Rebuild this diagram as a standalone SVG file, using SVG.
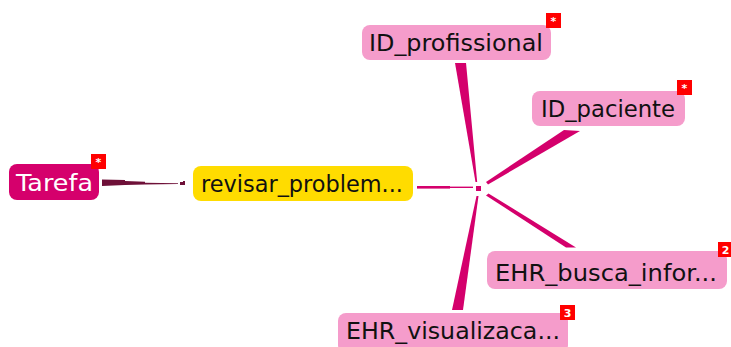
<svg xmlns="http://www.w3.org/2000/svg" width="731" height="347" viewBox="0 0 731 347">
<style>
.pink{fill:#f59ccb}
.t{font-family:"DejaVu Sans",sans-serif;font-size:23px;fill:#111}
.b{fill:#ff0000}
.bt{font-family:"DejaVu Sans",sans-serif;font-size:11px;font-weight:bold;fill:#fff;text-anchor:middle}
.sp{fill:#d4006c}
</style>
<rect width="731" height="347" fill="#fff"/>
<g id="connectors">
<polygon points="102,179.5 125,180 125,181 145,181.8 145,182.8 178,183.2 178,184 145,184.4 125,185 102,186" fill="#6e1038"/>
<rect x="180" y="182" width="5" height="3" fill="#6e1038"/>
<rect x="183" y="181" width="2" height="2" fill="#6e1038"/>
<rect x="417" y="186" width="33" height="2.6" class="sp"/>
<rect x="450" y="186.6" width="23" height="1.4" class="sp"/>
<rect x="476" y="186" width="5" height="5" class="sp"/>
<polygon points="475.5,182 477.2,182 466,63 455,63" class="sp"/>
<polygon points="486,182 488,184.5 580,131 564,130" class="sp"/>
<polygon points="486,195.5 488.5,193.5 576,247.5 566,247.5" class="sp"/>
<polygon points="476.5,196 478.5,196 463,310 452,310" class="sp"/>
</g>
<g id="n-tarefa">
<rect x="9" y="164" width="90" height="36" rx="8" fill="#d5006c"/>
<text x="16" y="191" class="t" style="fill:#fff" textLength="77" lengthAdjust="spacingAndGlyphs">Tarefa</text>
<rect x="91" y="154" width="15" height="15" class="b"/>
<text x="98.5" y="166" class="bt">*</text>
</g>
<g id="n-revisar">
<rect x="193" y="166" width="220" height="35" rx="8" fill="#ffdc00"/>
<text x="201" y="192" class="t" textLength="202" lengthAdjust="spacingAndGlyphs">revisar_problem...</text>
</g>
<g id="n-idprof">
<rect x="362" y="25" width="189" height="35" rx="8" class="pink"/>
<text x="369" y="51" class="t" textLength="174" lengthAdjust="spacingAndGlyphs">ID_profissional</text>
<rect x="546" y="13" width="15" height="15" class="b"/>
<text x="553.5" y="25" class="bt">*</text>
</g>
<g id="n-idpac">
<rect x="532" y="91" width="153" height="35" rx="8" class="pink"/>
<text x="541" y="117" class="t" textLength="134" lengthAdjust="spacingAndGlyphs">ID_paciente</text>
<rect x="677" y="80" width="15" height="15" class="b"/>
<text x="684.5" y="92" class="bt">*</text>
</g>
<g id="n-ehrbusca">
<rect x="487" y="251" width="240" height="38" rx="8" class="pink"/>
<text x="495" y="281" class="t" textLength="222" lengthAdjust="spacingAndGlyphs">EHR_busca_infor...</text>
<rect x="718" y="242" width="15" height="15" class="b"/>
<text x="725.5" y="254" class="bt">2</text>
</g>
<g id="n-ehrvis">
<rect x="338" y="313" width="230" height="40" rx="8" class="pink"/>
<text x="346" y="339" class="t" textLength="214" lengthAdjust="spacingAndGlyphs">EHR_visualizaca...</text>
<rect x="560" y="305" width="15" height="15" class="b"/>
<text x="567.5" y="317" class="bt">3</text>
</g>
</svg>
